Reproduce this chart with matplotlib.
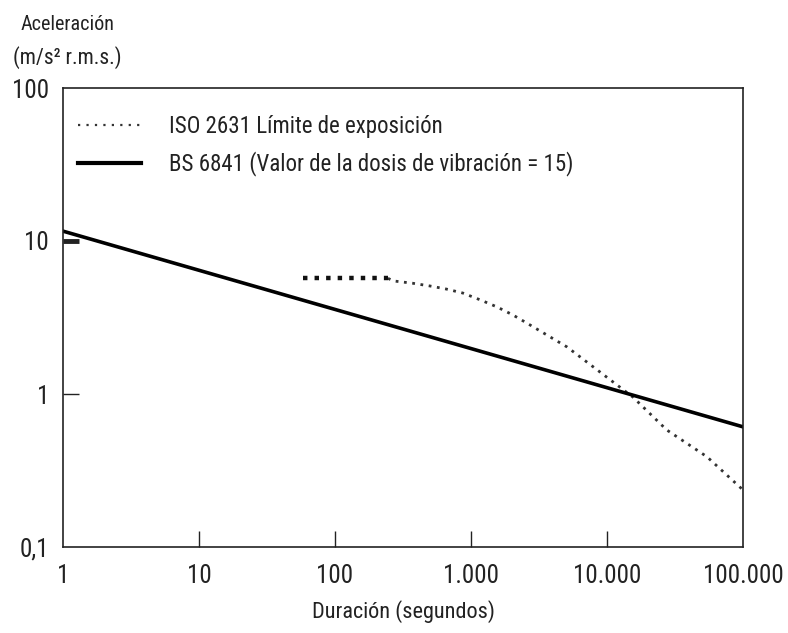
import matplotlib
matplotlib.use("Agg")
import matplotlib.pyplot as plt
from matplotlib import font_manager
from matplotlib.lines import Line2D

# ---- data ----
x_ticks = [1, 10, 100, 1000, 10000, 100000]
x_tick_labels = ["1", "10", "100", "1.000", "10.000", "100.000"]
y_ticks = [0.1, 1, 10, 100]
y_tick_labels = ["0,1", "1", "10", "100"]

bs_x = [1, 100000]
bs_y = [11.6, 0.61]

iso_flat_x = [58, 245]
iso_flat_y = [5.7, 5.7]

iso_curve_x = [245, 270, 370, 500, 660, 870, 1180, 1550, 2040, 2570, 5080, 8900, 15500, 27500, 54300, 100000]
iso_curve_y = [5.7, 5.48, 5.30, 5.08, 4.85, 4.57, 4.11, 3.71, 3.28, 2.91, 2.03, 1.39, 0.955, 0.582, 0.389, 0.236]

labels = ["ISO 2631 Límite de exposición", "BS 6841 (Valor de la dosis de vibración = 15)"]

# ---- font: prefer a condensed face ----
avail = {f.name for f in font_manager.fontManager.ttflist}
fam = "DejaVu Sans"
for cand in ["Roboto Condensed", "Liberation Sans Narrow", "Open Sans Condensed"]:
    if cand in avail:
        fam = cand
        break
plt.rcParams['font.family'] = [fam, 'DejaVu Sans']

fig = plt.figure(figsize=(7.88, 6.33), dpi=100)
ax = fig.add_axes([63/788, 1-547/633, 680/788, 459/633])

ax.set_xscale("log")
ax.set_yscale("log")
ax.set_xlim(1, 100000)
ax.set_ylim(0.1, 100)

ax.plot(iso_curve_x, iso_curve_y, color="#333333", lw=2.0, linestyle=(0, (1, 2)))
ax.plot(iso_flat_x, iso_flat_y, color="#111111", lw=3.2, linestyle=(0, (1, 1.6)), solid_capstyle="butt")
ax.plot(bs_x, bs_y, color="black", lw=2.6)

ax.set_xticks(x_ticks)
ax.set_xticklabels(x_tick_labels)
ax.set_yticks(y_ticks)
ax.set_yticklabels(y_tick_labels)
ax.minorticks_off()
ax.tick_params(axis="both", direction="in", length=11.5, width=1.0, labelsize=18,
               color="#222222", labelcolor="#222222")
ax.tick_params(axis="x", pad=12)
ax.tick_params(axis="y", pad=10)
for t in ax.yaxis.get_major_ticks():
    if abs(t.get_loc() - 10) < 1e-9:
        t.tick1line.set_markeredgewidth(3.5)
    if abs(t.get_loc() - 100) < 1e-9 or abs(t.get_loc() - 0.1) < 1e-9:
        t.tick1line.set_visible(False)
for t in ax.xaxis.get_major_ticks():
    if t.get_loc() in (1, 100000):
        t.tick1line.set_visible(False)
for s in ax.spines.values():
    s.set_linewidth(1.2)
    s.set_color("#222222")

ax.set_xlabel("Duración (segundos)", fontsize=16, color="#222222", labelpad=9)

fig.text(67/788, 1-24/633, "Aceleración", ha="center", va="center", fontsize=14.5, color="#222222")
fig.text(67/788, 1-58/633, "(m/s² r.m.s.)", ha="center", va="center", fontsize=15.5, color="#222222")

h1 = Line2D([], [], color="#333333", lw=1.6, linestyle=(0, (1, 2.8)))
h2 = Line2D([], [], color="black", lw=3.0)
ax.legend([h1, h2], labels, loc="upper left", bbox_to_anchor=(0.009, 0.962), frameon=False,
          fontsize=16.5, handlelength=2.75, handletextpad=1.2, labelspacing=0.6, borderaxespad=0,
          labelcolor="#222222")

fig.savefig("out.png", dpi=100)
